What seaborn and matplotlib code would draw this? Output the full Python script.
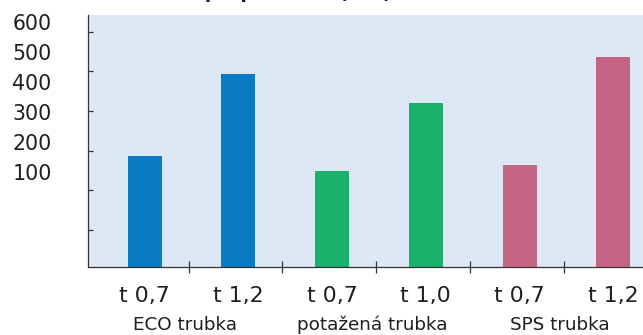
import matplotlib
matplotlib.use("Agg")
import matplotlib.pyplot as plt
import matplotlib.transforms as mtransforms
from matplotlib.ticker import FixedLocator
import numpy as np
import pandas as pd
import seaborn as sns

# --- data -------------------------------------------------------------
groups = ["ECO trubka", "ECO trubka",
          "potažená trubka", "potažená trubka",
          "SPS trubka", "SPS trubka"]
thickness = ["t 0,7", "t 1,2", "t 0,7", "t 1,0", "t 0,7", "t 1,2"]
values = [287, 492, 249, 419, 264, 535]

group_names = ["ECO trubka", "potažená trubka", "SPS trubka"]
group_colors = ["#0a7bc4", "#1bb06c", "#c66583"]
y_ticks = [100, 200, 300, 400, 500, 600]
title = "Tlak při porušení (bar)"

# --- style -------------------------------------------------------------
bg = "#dce8f4"
ink = "#333333"
text_col = "#1e1e1e"

sns.set_theme(style="white")
plt.rcParams["font.family"] = ["DejaVu Sans"]

df = pd.DataFrame({
    "bar": [f"{g} {t}" for g, t in zip(groups, thickness)],
    "group": groups,
    "value": values,
})

W, H = 643, 335
fig = plt.figure(figsize=(W / 100, H / 100), dpi=100)
ax = fig.add_axes([88 / W, 1 - 267 / H, 1 - 88 / W, (267 - 15) / H])
ax.set_facecolor(bg)

sns.barplot(data=df, x="bar", y="value", hue="group",
            palette=dict(zip(group_names, group_colors)),
            dodge=False, width=0.363, saturation=1, legend=False,
            linewidth=0, edgecolor="none", ax=ax)

ax.set_xlim(-0.603, 5.317)
ax.set_ylim(6.8, 641.6)
ax.set_xlabel("")
ax.set_ylabel("")

for side in ("top", "right"):
    ax.spines[side].set_visible(False)
for side in ("left", "bottom"):
    ax.spines[side].set_color(ink)
    ax.spines[side].set_linewidth(0.9)

# y axis: tick marks crossing the spine, labels set separately
ax.set_yticks(y_ticks)
ax.tick_params(axis="y", which="major", direction="out", length=7.9,
               width=0.9, color=ink, labelleft=False)
ax.yaxis.set_minor_locator(FixedLocator(y_ticks))
ax.yaxis.remove_overlapping_locs = False
ax.tick_params(axis="y", which="minor", direction="in", length=3.6,
               width=0.9, color=ink, left=True)

lab_tf = mtransforms.blended_transform_factory(fig.transFigure, ax.transData)
for v in y_ticks:
    ax.text(51.7 / W, 165 + 0.756 * v, str(v), transform=lab_tf,
            ha="right", va="center", fontsize=14.8, color=text_col,
            clip_on=False)

# x axis: thickness labels under bars, separators between them
n = len(values)
ax.set_xticks(np.arange(n))
ax.set_xticklabels(thickness)
ax.tick_params(axis="x", which="major", length=0, pad=13.5,
               labelsize=15.8, labelcolor=text_col)
ax.xaxis.set_minor_locator(FixedLocator(np.arange(n - 1) + 0.47))
ax.tick_params(axis="x", which="minor", direction="inout", length=8.6,
               width=0.9, color=ink, bottom=True)

grp_tf = mtransforms.blended_transform_factory(ax.transData, fig.transFigure)
for name in group_names:
    idx = [i for i, g in enumerate(groups) if g == name]
    ax.text(np.mean(idx) - 0.07, 1 - 330 / H, name, transform=grp_tf,
            ha="center", va="baseline", fontsize=13.2, color=text_col,
            clip_on=False)

fig.text(392 / W, 1 + 1.5 / H, title, ha="right", va="baseline",
         fontsize=13.4, fontweight="bold", color=text_col)

fig.savefig("out.png", dpi=100, facecolor="white")
